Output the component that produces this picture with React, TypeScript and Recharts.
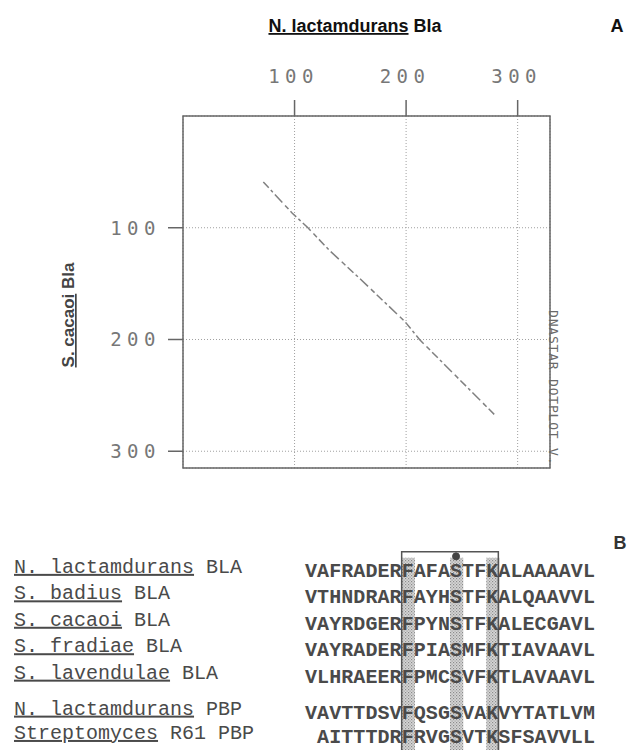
import React from "react";
import {
  ComposedChart,
  ScatterChart,
  Scatter,
  Line,
  XAxis,
  YAxis,
  CartesianGrid,
  ReferenceArea,
  ReferenceDot,
} from "recharts";

// Panel A: dot plot
const xTicks = [100, 200, 300];
const yTicks = [100, 200, 300];
const dotX = [72, 98, 112, 131, 158, 199, 212, 279];
const dotY = [59, 87, 100, 120, 145, 184, 200, 267];

// Panel B: alignment
const speciesNames = [
  "N. lactamdurans",
  "S. badius",
  "S. cacaoi",
  "S. fradiae",
  "S. lavendulae",
  "N. lactamdurans",
  "Streptomyces",
];
const proteinTags = ["BLA", "BLA", "BLA", "BLA", "BLA", "PBP", "R61 PBP"];
const sequences = [
  "VAFRADERFAFASTFKALAAAAVL",
  "VTHNDRARFAYHSTFKALQAAVVL",
  "VAYRDGERFPYNSTFKALECGAVL",
  "VAYRADERFPIASMFKTIAVAAVL",
  "VLHRAEERFPMCSVFKTLAVAAVL",
  "VAVTTDSVFQSGSVAKVYTATLVM",
  " AITTTDRFRVGSVTKSFSAVVLL",
];
const rowY = [0, 1, 2, 3, 4, 5.36, 6.28];
const shadedCols = [8, 12, 15];
const boxCols = [8, 15];
const motifCol = 12;

const dotData = dotX.map((x, i) => ({ x, y: dotY[i] }));

const letterData = sequences.flatMap((seq, r) =>
  seq
    .split("")
    .map((ch, c) => ({ x: c, y: rowY[r], ch }))
    .filter((d) => d.ch !== " ")
);

const GRAY = "#777";
const MONO = "DejaVu Sans Mono, monospace";
const SEQ_FONT = "Liberation Mono, Courier New, monospace";
const SANS = "Liberation Sans, Arial, sans-serif";
const INK = "#4a4a4a";

const TopTick = (props: any) => {
  const { x, payload } = props;
  return (
    <text x={x - 1} y={83} textAnchor="middle" fontFamily={MONO} fontSize={19} letterSpacing={5.5} fill={GRAY}>
      {payload.value}
    </text>
  );
};

const LeftTick = (props: any) => {
  const { y, payload } = props;
  return (
    <text x={161} y={y + 7} textAnchor="end" fontFamily={MONO} fontSize={19} letterSpacing={5.5} fill={GRAY}>
      {payload.value}
    </text>
  );
};

const NameTick = (props: any) => {
  const { y, index } = props;
  return (
    <text x={14} y={y + 2} fontFamily={SEQ_FONT} fontSize={20} fill={INK}>
      <tspan style={{ textDecoration: "underline" }}>{speciesNames[index]}</tspan>
      {" " + proteinTags[index]}
    </text>
  );
};

const Letter = (props: any) => {
  const { cx, cy, payload } = props;
  return (
    <text x={cx} y={cy + 6} textAnchor="middle" fontFamily={SEQ_FONT} fontWeight="bold" fontSize={20} fill={INK}>
      {payload.ch}
    </text>
  );
};

export default function App() {
  return (
    <div style={{ position: "absolute", left: 0, top: 0, width: 628, height: 750, overflow: "hidden", background: "#fff" }}>
      <svg width={0} height={0} style={{ position: "absolute" }}>
        <defs>
          <pattern id="stipple" width="3" height="3" patternUnits="userSpaceOnUse">
            <rect width="3" height="3" fill="#d2d2d2" />
            <rect x="0" y="0" width="1.2" height="1.2" fill="#7e7e7e" />
            <rect x="1.5" y="1.5" width="1.2" height="1.2" fill="#929292" />
          </pattern>
        </defs>
      </svg>

      <div style={{ position: "absolute", left: 0, top: 0 }}>
        <ComposedChart width={628} height={480} margin={{ top: 56, right: 78, bottom: 12, left: 103 }}>
          <CartesianGrid stroke="#a0a0a0" strokeDasharray="1 2" />
          <XAxis
            type="number"
            dataKey="x"
            orientation="top"
            domain={[0, 329]}
            ticks={xTicks}
            height={60}
            axisLine={false}
            tickLine={{ stroke: "#666", strokeWidth: 1.5 }}
            tickSize={16}
            tick={TopTick}
            interval={0}
            allowDataOverflow
          />
          <YAxis
            type="number"
            dataKey="y"
            domain={[0, 315]}
            reversed
            ticks={yTicks}
            width={80}
            axisLine={false}
            tickLine={{ stroke: "#666", strokeWidth: 1.5 }}
            tickSize={15}
            tick={LeftTick}
            interval={0}
            allowDataOverflow
          />
          <ReferenceArea x1={0} x2={329} y1={0} y2={315} fill="none" stroke="#666" strokeWidth={1.5} ifOverflow="visible" />
          <Line
            data={dotData}
            dataKey="y"
            type="linear"
            stroke="#808080"
            strokeWidth={1.5}
            strokeDasharray="8 3 3 3 11 4 5 3"
            dot={false}
            isAnimationActive={false}
          />
        </ComposedChart>
      </div>

      <div style={{ position: "absolute", left: 0, top: 518 }}>
        <ScatterChart width={628} height={238} margin={{ top: 0, right: 33, bottom: 0, left: 0 }}>
          <XAxis type="number" dataKey="x" domain={[-0.5, 23.5]} hide />
          <YAxis
            type="number"
            dataKey="y"
            domain={[-2, 7]}
            reversed
            ticks={rowY}
            interval={0}
            width={305}
            axisLine={false}
            tickLine={false}
            tick={NameTick}
          />
          {shadedCols.map((c) => (
            <ReferenceArea
              key={c}
              x1={c - 0.5}
              x2={c + 0.6}
              y1={-0.5}
              y2={7}
              fill="url(#stipple)"
              fillOpacity={0.9}
              stroke="none"
              ifOverflow="visible"
            />
          ))}
          <ReferenceArea
            x1={boxCols[0] - 0.5}
            x2={boxCols[1] + 0.5}
            y1={-0.72}
            y2={7}
            fill="none"
            stroke="#555"
            strokeWidth={1.5}
            ifOverflow="visible"
          />
          <ReferenceDot x={motifCol} y={-0.55} r={3.5} fill="#444" stroke="#444" ifOverflow="visible" />
          <Scatter data={letterData} shape={Letter} isAnimationActive={false} />
        </ScatterChart>
      </div>

      <svg width={628} height={750} style={{ position: "absolute", left: 0, top: 0, pointerEvents: "none" }}>
        <text x={355} y={32} textAnchor="middle" fontFamily={SANS} fontWeight="bold" fontSize={18} fill="#111">
          <tspan style={{ textDecoration: "underline" }}>N. lactamdurans</tspan> Bla
        </text>
        <text x={617} y={32} textAnchor="middle" fontFamily={SANS} fontWeight="bold" fontSize={18} fill="#111">
          A
        </text>
        <text
          x={74}
          y={315}
          transform="rotate(-90 74 315)"
          textAnchor="middle"
          fontFamily={SANS}
          fontWeight="bold"
          fontSize={17}
          fill="#444"
        >
          <tspan style={{ textDecoration: "underline" }}>S. cacaoi</tspan> Bla
        </text>
        <text x={549} y={310} transform="rotate(90 549 310)" fontFamily={MONO} fontSize={13} letterSpacing={0.8} fill="#6a6a6a">
          DNASTAR DOTPLOT V.
        </text>
        <text x={620} y={549} textAnchor="middle" fontFamily={SANS} fontWeight="bold" fontSize={18} fill="#333">
          B
        </text>
      </svg>
    </div>
  );
}
